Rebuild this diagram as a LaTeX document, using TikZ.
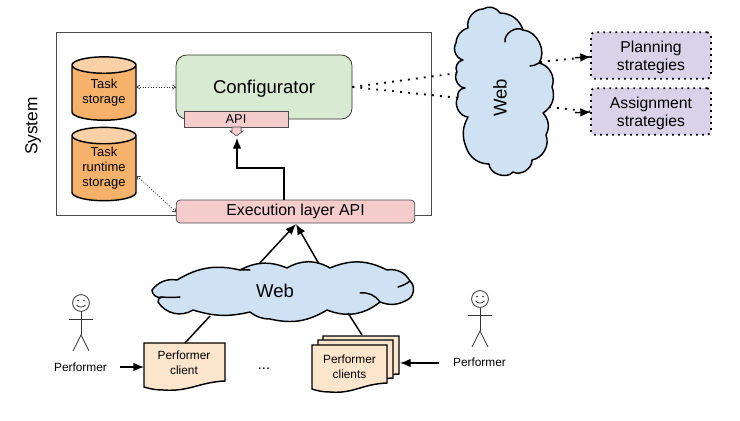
\documentclass[tikz,border=0pt]{standalone}
\usepackage{fontspec}
\setmainfont{Liberation Sans}
\usetikzlibrary{arrows.meta,shapes.geometric}

\begin{document}
\begin{tikzpicture}[
  x = 0.75pt,
  y = -0.75pt,
  store/.style = {
    shape = cylinder,
    shape border rotate = 90,
    cylinder uses custom fill,
    cylinder body fill = storeorange,
    cylinder end fill = storeorange!60,
    draw = black,
    line width = 1.1pt,
    aspect = 0.38,
    minimum width = 48pt,
    inner sep = 0pt,
    align = center,
    font = \fontsize{9.7}{11.3}\selectfont,
  },
  pinkbox/.style = {
    shape = rectangle,
    draw = black!70,
    fill = apipink,
    inner sep = 0pt,
    line width = 0.6pt,
  },
  strategy/.style = {
    shape = rectangle,
    rounded corners = 3pt,
    draw = black,
    fill = strategypurple,
    line width = 1.3pt,
    dash pattern = on 1.3pt off 3.2pt,
    minimum width = 90pt,
    minimum height = 35pt,
    inner sep = 0pt,
  },
  webcloud/.style = {
    draw = black,
    fill = webblue,
    line width = 1.1pt,
    line join = round,
  },
  webcrease/.style = {
    draw = black,
    line width = 1.1pt,
    line cap = round,
  },
  clientpage/.style = {
    draw = black,
    fill = clientpeach,
    line width = 1.1pt,
    line join = miter,
  },
  person/.style = {
    draw = black!80,
    line width = 0.6pt,
  },
  solidlink/.style = {
    draw = black,
    line width = 1.1pt,
    -{Latex[length = 8pt, width = 6.5pt]},
  },
  farlink/.style = {
    draw = black,
    line width = 1.4pt,
    dash pattern = on 1.4pt off 4.6pt,
  },
  locallink/.style = {
    draw = black!80,
    line width = 0.5pt,
    dash pattern = on 0.8pt off 1.2pt,
    {To[length = 2.5pt, width = 3.5pt]}-{To[length = 2.5pt, width = 3.5pt]},
  },
  plaintext/.style = {
    inner sep = 0pt,
    align = center,
    font = \fontsize{8.9}{11.2}\selectfont,
  },
  strategytext/.style = {
    plaintext,
    font = \fontsize{11.8}{13.6}\selectfont,
  }
]
  \definecolor{storeorange}{HTML}{F6B26B}
  \definecolor{apipink}{HTML}{F4CCCC}
  \definecolor{configgreen}{HTML}{D9EAD3}
  \definecolor{strategypurple}{HTML}{D9D2E9}
  \definecolor{webblue}{HTML}{CFE2F3}
  \definecolor{clientpeach}{HTML}{FCE5CD}

  \useasboundingbox (0, 0) rectangle (740, 421);

  \node[draw = black!70, line width = 0.75pt, minimum width = 281.25pt,
    minimum height = 137.25pt, inner sep = 0pt] (system) at (243.5, 123.5) {};
  \node[plaintext, rotate = 90, font = \fontsize{13}{15}\selectfont]
    (systemlabel) at (33, 126) {System};

  \node[store, minimum height = 47.5pt] (taskstorage) at (104, 93) {Task\\storage};
  \node[store, minimum height = 55pt] (runtimestorage) at (104, 168.5)
    {Task\\runtime\\storage};

  \node[draw = black!80, fill = configgreen, rounded corners = 8pt, line width = 0.6pt,
    minimum width = 132pt, minimum height = 48pt, inner sep = 0pt] (configurator) at (264, 87) {};
  \node[inner sep = 0pt, font = \fontsize{13.9}{16}\selectfont]
    (configuratorlabel) at (264, 89) {Configurator};
  \node[pinkbox, minimum width = 78pt, minimum height = 12pt,
    font = \fontsize{9.6}{11}\selectfont] (api) at (236, 119) {API};
  \node[pinkbox, rounded corners = 3pt, minimum width = 179pt, minimum height = 17.25pt,
    font = \fontsize{11.9}{14}\selectfont] (execution) at (295.5, 211.5) {Execution layer API};

  % small arrow under the API box
  \draw[draw = black!70, fill = apipink, line width = 0.5pt]
    (232, 127) -- (232, 131) -- (230, 131) -- (236.5, 136) -- (243, 131)
    -- (241, 131) -- (241, 127) -- cycle;

  \coordinate (apitip) at (237, 138);
  \coordinate (apibend) at (237, 168);
  \coordinate (execout) at (284, 200);
  \draw[solidlink] (execout) |- (apibend) -- (apitip);

  \draw[locallink] (taskstorage.east |- configurator.west) -- (configurator.west);
  \coordinate (runtimeedge) at (137, 176);
  \coordinate (execedge) at (176, 212);
  \draw[locallink] (runtimeedge) -- (execedge);

  \node[strategy] (planning) at (651, 55.5) {};
  \node[strategytext] (planninglabel) at (651, 57) {Planning\\strategies};
  \node[strategy] (assignment) at (651, 111.5) {};
  \node[strategytext] (assignmentlabel) at (651, 113) {Assignment\\strategies};

  \coordinate (webrightin1) at (458, 73);
  \coordinate (webrightin2) at (460, 98);
  \coordinate (webrightout1) at (540, 62);
  \coordinate (webrightout2) at (549, 107);
  \draw[farlink] (configurator.east) -- (webrightin1);
  \draw[farlink] (configurator.east) -- (webrightin2);
  \draw[farlink] (webrightout1) -- ([yshift = -1pt]planning.west);
  \draw[farlink] (webrightout2) -- (assignment.west);
  \foreach \tipx/\tipy/\name in {591/57/planningtip, 591/112/assignmenttip} {
    \coordinate (\name) at (\tipx, \tipy);
    \draw[solidlink] ([xshift = -12pt, yshift = -0.5pt]\name) -- (\name);
  }

  % web cloud on the right
  \path[webcloud]
    (468, 28) to[bend left = 50] (483, 9) to[bend left = 45] (500, 13)
    to[bend left = 35] (523, 30) to[bend left = 60] (539, 63)
    to[bend left = 50] (552, 87) to[bend left = 40] (543, 113)
    to[bend left = 35] (546, 135) to[bend left = 50] (532, 160)
    to[bend left = 60] (513, 172) to[bend left = 70] (489, 164)
    to[bend left = 35] (466, 147) to[bend left = 25] (468, 117)
    to[bend left = 60] (458, 97) to[bend left = 55] (465, 88)
    to[bend left = 60] (457, 72) to[bend left = 60] (463, 60)
    to[bend left = 55] (456, 43) to[bend left = 35] (468, 28) -- cycle;
  \draw[webcrease] (505, 42) to[bend left = 65] (523, 30);
  \draw[webcrease] (539, 63) to[bend left = 15] (530, 66);
  \node[plaintext, rotate = 90, font = \fontsize{13.9}{16}\selectfont]
    (webright) at (500, 98) {Web};

  \coordinate (webbottomout1) at (258, 265);
  \coordinate (webbottomout2) at (319, 264);
  \coordinate (webbottomin1) at (210, 316);
  \coordinate (webbottomin2) at (348, 313);
  \coordinate (exectip) at (296, 224);
  \draw[solidlink] (webbottomout1) -- (exectip);
  \draw[solidlink] (webbottomout2) -- (exectip);

  % web cloud at the bottom
  \path[webcloud]
    (177, 280) to[bend left = 22] (240, 270) to[bend left = 25] (287, 268)
    to[bend left = 30] (330, 268) to[bend left = 25] (387, 270)
    to[bend left = 35] (410, 281) to[bend left = 60] (407, 300)
    to[bend left = 25] (380, 302) to[bend left = 30] (327, 310)
    to[bend left = 22] (270, 319) to[bend left = 18] (250, 312)
    to[bend left = 15] (193, 310) to[bend left = 45] (158, 302)
    to[bend left = 50] (162, 297) to[bend left = 60] (152, 290)
    to[bend left = 30] (177, 280) -- cycle;
  \draw[webcrease] (180, 297) to[bend left = 5] (162, 297);
  \draw[webcrease] (360, 293) to[bend left = 30] (380, 302);
  \draw[webcrease] (398, 287) to[bend right = 10] (410, 281);
  \draw[webcrease] (240, 270) to[bend left = 5] (250, 270);
  \node[plaintext, font = \fontsize{13.9}{16}\selectfont] (webbottom) at (275, 291) {Web};

  % client documents
  \foreach \x/\y/\w in {144/343/81, 323/336/76, 318/340/75, 312/345/75} {
    \draw[clientpage, shift = {(\x, \y)}]
      (0, 0) -- (\w, 0) -- (\w, 38)
      .. controls (\w - 25, 39) and (\w * 0.55, 49) .. (\w * 0.24, 47)
      .. controls (\w * 0.15, 47) and (\w * 0.08, 46) .. (0, 44) -- cycle;
  }
  \node[plaintext] (client) at (184, 362.5) {Performer\\client};
  \node[plaintext] (clients) at (349.5, 367) {Performer\\clients};
  \node[plaintext, font = \fontsize{11}{13}\selectfont] (dots) at (264, 369) {...};

  \coordinate (clienttop) at (185, 343);
  \coordinate (clientstop) at (362, 335);
  \draw[line width = 1.1pt] (clienttop) -- (webbottomin1);
  \draw[line width = 1.1pt] (clientstop) -- (webbottomin2);

  % stick figures
  \foreach \name/\x/\y in {left/81/303, right/480/299} {
    \begin{scope}[shift = {(\x, \y)}]
      \node[person, shape = circle, minimum size = 12.6pt, inner sep = 0pt]
        (head\name) at (0, 0) {};
      \draw[person] (head\name.south) -- (0, 32) coordinate (hip\name);
      \draw[person] (-12, 16) -- (12, 16);
      \draw[person] (-8, 48) -- (hip\name) -- (8, 48);
      \fill[black!80] (-3, -2.5) circle (0.7pt) (3, -2.5) circle (0.7pt);
      \draw[person] (-4.5, 2) to[bend right = 50] (4.5, 2);
    \end{scope}
  }
  \node[plaintext] (performerleft) at (80.5, 367) {Performer};
  \node[plaintext] (performerright) at (479.5, 362.5) {Performer};

  \coordinate (performerleftout) at (120, 367);
  \coordinate (performerrightout) at (439, 363);
  \coordinate (clientin) at (144, 367);
  \coordinate (clientsin) at (400, 363);
  \draw[solidlink] (performerleftout) -- (clientin);
  \draw[solidlink] (performerrightout) -- (clientsin);
\end{tikzpicture}
\end{document}
